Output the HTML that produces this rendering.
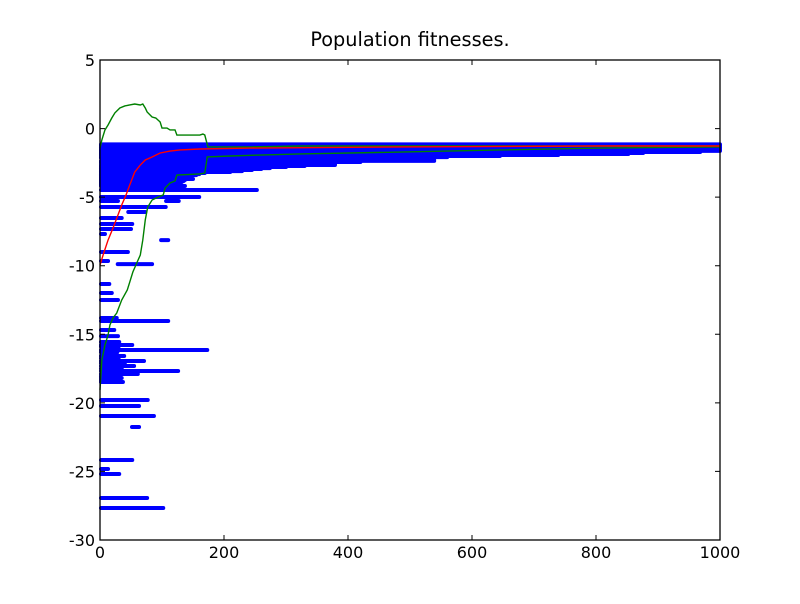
<!DOCTYPE html>
<html><head><meta charset="utf-8"><style>
body{margin:0;background:#fff;width:800px;height:600px;overflow:hidden;font-family:"DejaVu Sans",sans-serif}
</style></head><body>
<svg id="chart" width="800" height="600" xmlns="http://www.w3.org/2000/svg">
<rect width="800" height="600" fill="#fff"/>
<text x="410" y="46" text-anchor="middle" font-size="19.3" font-family="DejaVu Sans, sans-serif">Population fitnesses.</text>
<g id="plot"></g>
<rect x="100" y="60" width="620" height="480" fill="none" stroke="#000" stroke-width="1.3"/>
<g id="axes" font-family="DejaVu Sans, sans-serif"></g>
</svg>
<script>
const xTicks=[0,200,400,600,800,1000];
const yTicks=[5,0,-5,-10,-15,-20,-25,-30];
// blue segments: y value, x start, x end
const segY=[-1.15,-1.25,-1.35,-1.45,-1.55,-1.63,-1.71,-1.78,-1.85,-1.93,-2.0,-2.08,-2.15,-2.22,-2.36,-2.44,-2.51,-2.58,-2.66,-2.73,-2.8,-2.88,-2.95,-3.02,-3.1,-3.17,-3.24,-3.32,-3.39,-3.46,-3.53,-3.6,-3.68,-3.75,-3.82,-3.9,-3.97,-4.04,-4.11,-4.19,-4.48,-4.99,-5.28,-5.28,-5.72,-6.08,-6.52,-6.96,-7.32,-7.69,-8.13,-9.0,-9.66,-9.88,-11.33,-11.99,-12.5,-13.81,-14.03,-14.69,-15.13,-15.56,-15.78,-15.9,-16.15,-16.3,-16.58,-16.75,-16.95,-17.1,-17.31,-17.5,-17.68,-17.9,-18.05,-18.19,-18.33,-18.48,-19.79,-20.23,-20.96,-21.76,-24.17,-24.82,-25.19,-26.94,-27.67];
const segX0=[0,0,0,0,0,0,0,0,0,0,0,0,0,405,0,0,0,258,0,0,0,0,0,0,0,0,0,0,0,0,0,0,0,0,0,0,0,0,0,0,0,0,0,105,0,44,0,0,0,0,97,0,0,27,0,0,0,0,0,0,0,0,0,0,0,0,0,0,0,0,0,0,0,0,0,0,0,0,0,0,0,50,0,0,0,0,0];
const segX1=[1000,1000,1000,1000,1000,1000,968,876,852,739,645,560,300,539,539,420,240,379,379,330,300,274,260,245,229,210,169,160,155,145,142,140,150,137,135,132,129,125,125,137,253,160,29,127,106,73,35,52,50,8,110,45,13,84,15,19,29,27,110,23,29,31,52,30,173,28,39,30,71,40,55,35,126,61,30,35,30,37,77,63,87,63,52,13,31,76,102];
const minX=[0,3,8,13,16,21,27,35,44,48,53,60,65,69,73,77,84,94,102,105,113,121,124,161,169,173,210,258,323,484,645,806,1000];
const minY=[-19.06,-16.88,-15.78,-15.05,-14.32,-13.81,-13.45,-12.5,-11.77,-11.19,-10.46,-9.73,-9.22,-8.13,-6.67,-5.72,-5.21,-4.99,-4.84,-4.33,-3.97,-3.82,-3.39,-3.31,-3.24,-2.07,-2.0,-1.93,-1.85,-1.71,-1.56,-1.42,-1.34];
const meanX=[0,5,13,21,29,35,42,48,56,65,73,84,97,113,129,161,242,484,806,1000];
const meanY=[-9.95,-9.22,-8.13,-7.25,-6.3,-5.57,-4.84,-4.11,-3.17,-2.66,-2.29,-2.07,-1.78,-1.64,-1.56,-1.49,-1.42,-1.34,-1.27,-1.27];
const maxX=[0,3,8,13,19,24,32,40,48,56,65,69,73,76,84,90,97,100,108,113,121,124,161,166,169,174,242,323,484,806,1000];
const maxY=[-1.42,-0.83,-0.1,0.26,0.77,1.14,1.5,1.65,1.72,1.79,1.72,1.79,1.5,1.21,0.84,0.77,0.48,0.04,0.04,-0.1,-0.1,-0.47,-0.47,-0.4,-0.47,-1.34,-1.34,-1.27,-1.27,-1.27,-1.27];
const X=v=>100+v*620/1000, Y=v=>60+(5-v)*480/35;
const NS='http://www.w3.org/2000/svg';
const plot=document.getElementById('plot'), axes=document.getElementById('axes');
for(let i=0;i<segY.length;i++){
  const l=document.createElementNS(NS,'line');
  
  
  l.setAttribute('x1',X(segX0[i])+1);l.setAttribute('x2',X(segX1[i]));
  l.setAttribute('y1',Y(segY[i]));l.setAttribute('y2',Y(segY[i]));
  l.setAttribute('stroke','#0000ff');l.setAttribute('stroke-width','4');l.setAttribute('stroke-linecap','round');
  plot.appendChild(l);
}
function line(xs,ys,color,name){
  const p=document.createElementNS(NS,'polyline');
  
  
  p.setAttribute('points',xs.map((x,i)=>X(x)+','+Y(ys[i])).join(' '));
  p.setAttribute('fill','none');p.setAttribute('stroke',color);p.setAttribute('stroke-width','1.4');
  plot.appendChild(p);
}
line(minX,minY,'#008000','min-fitness-line');
line(maxX,maxY,'#008000','max-fitness-line');
line(meanX,meanY,'#ff0000','mean-fitness-line');
xTicks.forEach(t=>{
  const x=X(t);
  const a=document.createElementNS(NS,'path');
  
  
  a.setAttribute('d',`M${x},540v-5M${x},60v5`);a.setAttribute('stroke','#000');
  axes.appendChild(a);
  const tx=document.createElementNS(NS,'text');
  
  
  tx.setAttribute('x',x);tx.setAttribute('y',558);tx.setAttribute('text-anchor','middle');tx.setAttribute('font-size','16');
  tx.textContent=t;axes.appendChild(tx);
});
yTicks.forEach(t=>{
  const y=Y(t);
  const a=document.createElementNS(NS,'path');
  
  
  a.setAttribute('d',`M100,${y}h5M720,${y}h-5`);a.setAttribute('stroke','#000');
  axes.appendChild(a);
  const tx=document.createElementNS(NS,'text');
  
  
  tx.setAttribute('x',95);tx.setAttribute('y',y+6);tx.setAttribute('text-anchor','end');tx.setAttribute('font-size','16');
  tx.textContent=t;axes.appendChild(tx);
});
</script>
</body></html>
